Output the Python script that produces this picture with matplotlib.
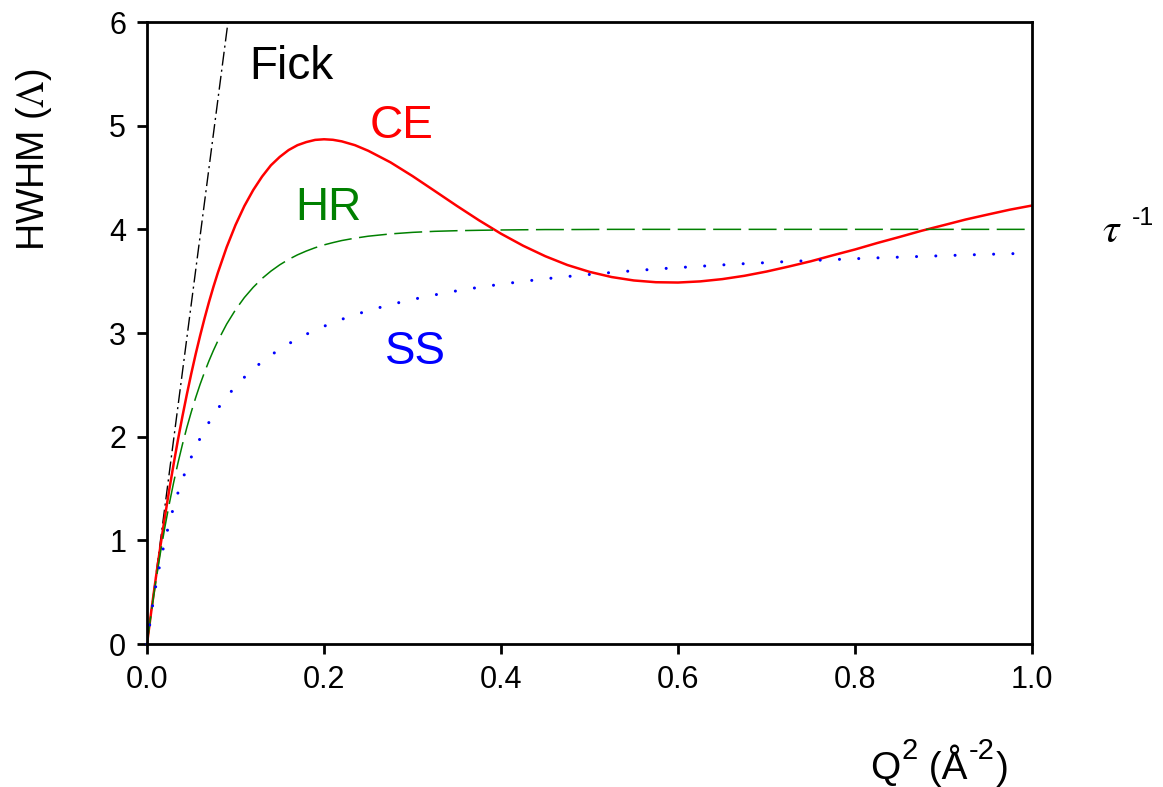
import numpy as np
import matplotlib.pyplot as plt
from matplotlib.transforms import IdentityTransform

plt.rcParams['font.family'] = ['Liberation Sans', 'DejaVu Sans']
plt.rcParams['mathtext.fontset'] = 'stix'

### values
q2_fick = [0.0, 0.0915]
hw_fick = [0.0, 6.0]

q2 = [0.0, 0.005, 0.01, 0.015, 0.02, 0.025, 0.03, 0.035, 0.04, 0.045, 0.05,
      0.055, 0.06, 0.065, 0.07, 0.075, 0.08, 0.09, 0.10, 0.11, 0.12, 0.13,
      0.14, 0.15, 0.16, 0.17, 0.18, 0.19, 0.20, 0.21, 0.22, 0.235, 0.25,
      0.275, 0.30, 0.325, 0.35, 0.375, 0.40, 0.425, 0.45, 0.475, 0.50, 0.525,
      0.55, 0.575, 0.60, 0.625, 0.65, 0.675, 0.70, 0.725, 0.75, 0.775, 0.80,
      0.825, 0.85, 0.875, 0.90, 0.925, 0.95, 0.975, 1.00]
hw_ce = [0.0, 0.327, 0.639, 0.934, 1.215, 1.481, 1.732, 1.971, 2.195, 2.407,
         2.608, 2.797, 2.974, 3.141, 3.298, 3.444, 3.580, 3.828, 4.042, 4.225,
         4.379, 4.509, 4.618, 4.699, 4.765, 4.812, 4.842, 4.863, 4.869, 4.864,
         4.849, 4.812, 4.758, 4.647, 4.514, 4.371, 4.227, 4.088, 3.958, 3.842,
         3.741, 3.656, 3.590, 3.540, 3.507, 3.490, 3.487, 3.498, 3.520, 3.552,
         3.593, 3.641, 3.692, 3.750, 3.806, 3.868, 3.926, 3.986, 4.040, 4.095,
         4.143, 4.190, 4.230]
hw_hr = [0.0, 0.315, 0.605, 0.872, 1.118, 1.345, 1.554, 1.747, 1.924, 2.088,
         2.238, 2.377, 2.505, 2.622, 2.731, 2.831, 2.923, 3.086, 3.224, 3.342,
         3.441, 3.526, 3.597, 3.658, 3.710, 3.754, 3.791, 3.823, 3.850, 3.872,
         3.892, 3.915, 3.934, 3.956, 3.971, 3.981, 3.987, 3.991, 3.994, 3.996,
         3.998, 3.998, 3.999, 4.0, 4.0, 4.0, 4.0, 4.0, 4.0, 4.0,
         4.0, 4.0, 4.0, 4.0, 4.0, 4.0, 4.0, 4.0, 4.0, 4.0,
         4.0, 4.0, 4.0]
hw_ss = [0.0, 0.303, 0.564, 0.790, 0.988, 1.163, 1.319, 1.459, 1.585, 1.699,
         1.802, 1.897, 1.984, 2.064, 2.138, 2.206, 2.270, 2.384, 2.485, 2.573,
         2.652, 2.723, 2.786, 2.844, 2.896, 2.944, 2.988, 3.028, 3.065, 3.100,
         3.132, 3.176, 3.216, 3.274, 3.324, 3.368, 3.407, 3.441, 3.471, 3.498,
         3.523, 3.545, 3.565, 3.584, 3.601, 3.617, 3.631, 3.644, 3.657, 3.669,
         3.679, 3.690, 3.699, 3.708, 3.717, 3.725, 3.732, 3.739, 3.746, 3.753,
         3.759, 3.765, 3.770]

xticks = [0.0, 0.2, 0.4, 0.6, 0.8, 1.0]
yticks = [0, 1, 2, 3, 4, 5, 6]

W, H = 1163, 787
fig = plt.figure(figsize=(W / 100, H / 100), dpi=100)
ax = fig.add_axes([0.1264, 0.1817, 0.761, 0.7903])

ax.plot(q2_fick, hw_fick, color='black', lw=1.0, ls=(0, (10, 3, 1.5, 3)))
ax.plot(q2, hw_ce, color='#ff0000', lw=1.8)
ax.plot(q2, hw_hr, color='#008000', lw=1.1, ls=(0, (18.3, 4.9)))
ax.plot(q2, hw_ss, color='#0000ff', lw=2.2, ls=(0, (0.01, 6.3)),
        dash_capstyle='round', clip_on=False)

ax.set_xlim(0, 1.0)
ax.set_ylim(0, 6)
ax.set_xticks(xticks)
ax.set_xticklabels(['%.1f' % t for t in xticks])
ax.set_yticks(yticks)
for s in ax.spines.values():
    s.set_linewidth(2)
ax.tick_params(direction='out', length=7, width=2, labelsize=22, pad=8)

ax.text(0.116, 5.57, 'Fick', fontsize=33, color='black', va='center')
ax.text(0.252, 5.0, 'CE', fontsize=33, color='#ff0000', va='center')
ax.text(0.168, 4.21, 'HR', fontsize=33, color='#008000', va='center')
ax.text(0.269, 2.82, 'SS', fontsize=33, color='#0000ff', va='center')

fig.text(0.029, 0.797, r'HWHM ($\Lambda$)', fontsize=27, rotation=90,
         ha='center', va='center')

renderer = fig.canvas.get_renderer()


###tekst z indeksami gornymi, kawalek po kawalku (x, y w pikselach od dolu)
def pieces_text(x, y, pieces):
    for s, size, rise in pieces:
        t = fig.text(x, y + rise, s, fontsize=size, transform=IdentityTransform())
        x = t.get_window_extent(renderer).x1 + 1


pieces_text(870, H - 779, [('Q', 28, 0), ('2', 21, 20), (' (Å', 28, 0),
                          ('-2', 21, 20), (')', 28, 0)])
fig.text(1102, H - 242, r'$\tau$', fontsize=30, transform=IdentityTransform())
fig.text(1132, H - 225, '-1', fontsize=18, transform=IdentityTransform())

fig.savefig('out.png', dpi=100)
